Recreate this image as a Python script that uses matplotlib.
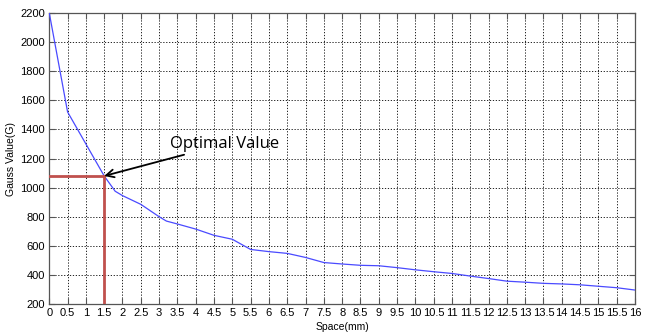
import numpy as np
import matplotlib
matplotlib.use("Agg")
import matplotlib.pyplot as plt

# values
space = [0, 0.5, 1.0, 1.5, 1.8, 2.0, 2.5, 3.0, 3.2, 3.5, 4.0, 4.5, 5.0, 5.5, 6.0,
         6.5, 7.0, 7.5, 8.0, 8.5, 9.0, 9.5, 10, 10.5, 11, 11.5, 12, 12.5, 13,
         13.5, 14, 14.5, 15, 15.5, 16]
gauss = [2200, 1520, 1300, 1080, 975, 945, 885, 800, 770, 750, 715, 672, 645,
         575, 560, 548, 520, 485, 475, 466, 463, 450, 435, 422, 410, 392, 375,
         357, 350, 342, 338, 332, 322, 312, 296]

opt_x = 1.5
opt_y = 1080

xticks = np.arange(0, 16.5, 0.5)
xticklabels = ["%g" % t for t in xticks]
yticks = np.arange(200, 2201, 200)

plt.rcParams['font.family'] = ['Liberation Sans', 'DejaVu Sans']

fig = plt.figure(figsize=(6.51, 3.35), dpi=100)
ax = fig.add_axes([0.0757, 0.0925, 0.8997, 0.8687])

ax.plot(space, gauss, color='#4a4aff', lw=0.9, zorder=3)

# optimal value marker lines
ax.plot([0, opt_x], [opt_y, opt_y], color='#c0504d', lw=2, zorder=4)
ax.plot([opt_x, opt_x], [200, opt_y], color='#c0504d', lw=2, zorder=4)

ax.annotate('Optimal Value', xy=(opt_x, opt_y), xytext=(3.3, 1300),
            fontsize=12, family=['Open Sans', 'DejaVu Sans'], va='center',
            arrowprops=dict(arrowstyle='->', color='black', lw=1.3,
                            shrinkA=0, shrinkB=0, mutation_scale=14),
            zorder=5)

ax.set_xlim(0, 16)
ax.set_ylim(200, 2200)
ax.set_xticks(xticks)
ax.set_xticklabels(xticklabels)
ax.set_yticks(yticks)
ax.tick_params(direction='in', top=True, right=True, length=4, width=0.8,
               labelsize=8, pad=3, color='#555555')
ax.grid(True, color='black', linestyle=(0, (1.5, 2)), lw=0.6)
for s in ax.spines.values():
    s.set_color('#555555')
    s.set_linewidth(0.9)

ax.set_xlabel('Space(mm)', fontsize=7.5, labelpad=3)
ax.set_ylabel('Gauss Value(G)', fontsize=7.5, labelpad=3)

fig.savefig('out.png', dpi=100)
